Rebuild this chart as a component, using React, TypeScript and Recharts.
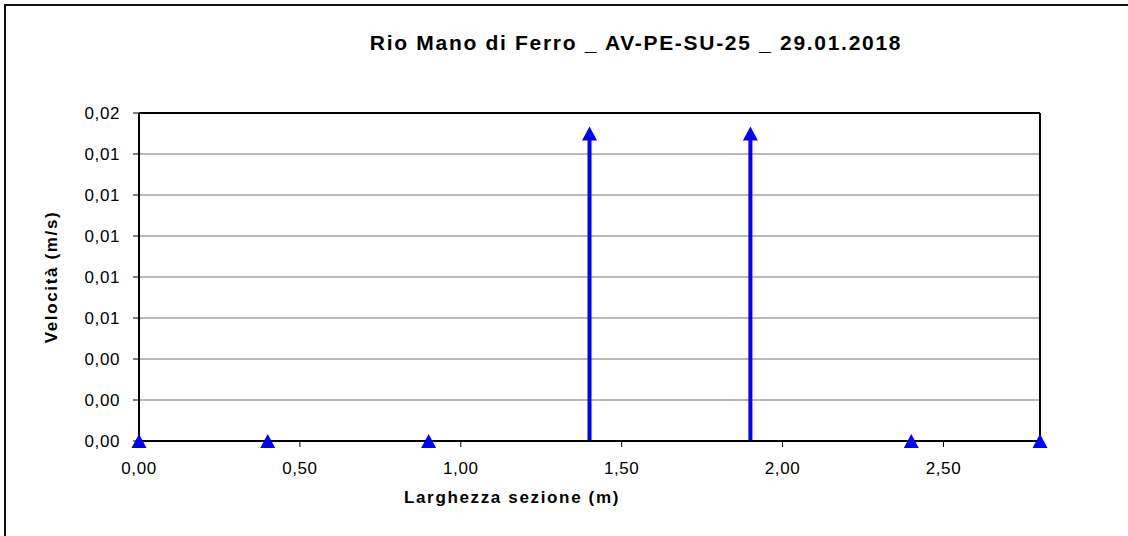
import {
  ComposedChart,
  Line,
  Scatter,
  XAxis,
  YAxis,
  CartesianGrid,
  ReferenceLine,
} from "recharts";

const widths = [0, 0.4, 0.9, 1.4, 1.9, 2.4, 2.8];
const velocities = [0, 0, 0, 0.015, 0.015, 0, 0];
const xTicks = [0, 0.5, 1, 1.5, 2, 2.5];
const yTicks = [0, 0.002, 0.004, 0.006, 0.008, 0.01, 0.012, 0.014, 0.016];

const title = "Rio Mano di Ferro _ AV-PE-SU-25 _ 29.01.2018";
const xTitle = "Larghezza sezione (m)";
const yTitle = "Velocità (m/s)";

const BLUE = "#0000ff";
const FONT = '"Liberation Sans", Arial, sans-serif';

const points = widths.map((w, i) => ({ x: w, y: velocities[i] }));
const stems = widths
  .map((w, i) => [
    { x: w, y: 0 },
    { x: w, y: velocities[i] },
  ])
  .filter((s) => s[1].y > 0);

const fmt = (v: number) => v.toFixed(2).replace(".", ",");

function Triangle(props: any) {
  const { cx, cy } = props;
  return (
    <polygon
      points={`${cx},${cy - 7} ${cx + 7.5},${cy + 7} ${cx - 7.5},${cy + 7}`}
      fill={BLUE}
    />
  );
}

const tickStyle = { fontSize: 17, fill: "#000", fontFamily: FONT, letterSpacing: 0.6 };

export default function App() {
  return (
    <div
      style={{
        position: "fixed",
        left: 0,
        top: 0,
        width: 1128,
        height: 536,
        overflow: "hidden",
        background: "#fff",
        fontFamily: FONT,
      }}
    >
      <div
        style={{
          position: "absolute",
          left: 4,
          top: 4,
          width: 1300,
          height: 700,
          border: "2px solid #111",
        }}
      />
      <div style={{ position: "absolute", left: 0, top: 0 }}>
        <ComposedChart
          width={1128}
          height={536}
          margin={{ top: 113, right: 88, bottom: 0, left: 0 }}
        >
          <CartesianGrid vertical={false} stroke="#a0a0a0" strokeWidth={1.5} />
          <XAxis
            type="number"
            dataKey="x"
            domain={[0, 2.8]}
            ticks={xTicks}
            tickFormatter={fmt}
            height={95}
            tickSize={6}
            tickMargin={15}
            tick={tickStyle}
            axisLine={{ stroke: "#000", strokeWidth: 2 }}
            tickLine={{ stroke: "#000" }}
          />
          <YAxis
            type="number"
            domain={[0, 0.016]}
            ticks={yTicks}
            tickFormatter={fmt}
            width={139}
            tickSize={6}
            tickMargin={13}
            tick={tickStyle}
            axisLine={{ stroke: "#000", strokeWidth: 2 }}
            tickLine={{ stroke: "#000" }}
          />
          <ReferenceLine y={0.016} stroke="#000" strokeWidth={2} />
          <ReferenceLine x={2.8} stroke="#000" strokeWidth={2} />
          {stems.map((s, i) => (
            <Line
              key={i}
              data={s}
              dataKey="y"
              stroke={BLUE}
              strokeWidth={4}
              dot={false}
              activeDot={false}
              isAnimationActive={false}
            />
          ))}
          <Scatter
            data={points}
            dataKey="y"
            shape={<Triangle />}
            isAnimationActive={false}
          />
        </ComposedChart>
      </div>
      <div
        style={{
          position: "absolute",
          left: 636,
          top: 43,
          transform: "translate(-50%, -50%)",
          whiteSpace: "nowrap",
          fontWeight: "bold",
          fontSize: 21,
          letterSpacing: 1.7,
        }}
      >
        {title}
      </div>
      <div
        style={{
          position: "absolute",
          left: 512,
          top: 498,
          transform: "translate(-50%, -50%)",
          whiteSpace: "nowrap",
          fontWeight: "bold",
          fontSize: 17,
          letterSpacing: 1.65,
        }}
      >
        {xTitle}
      </div>
      <div
        style={{
          position: "absolute",
          left: 52,
          top: 277,
          transform: "translate(-50%, -50%) rotate(-90deg)",
          whiteSpace: "nowrap",
          fontWeight: "bold",
          fontSize: 17,
          letterSpacing: 1.65,
        }}
      >
        {yTitle}
      </div>
    </div>
  );
}
